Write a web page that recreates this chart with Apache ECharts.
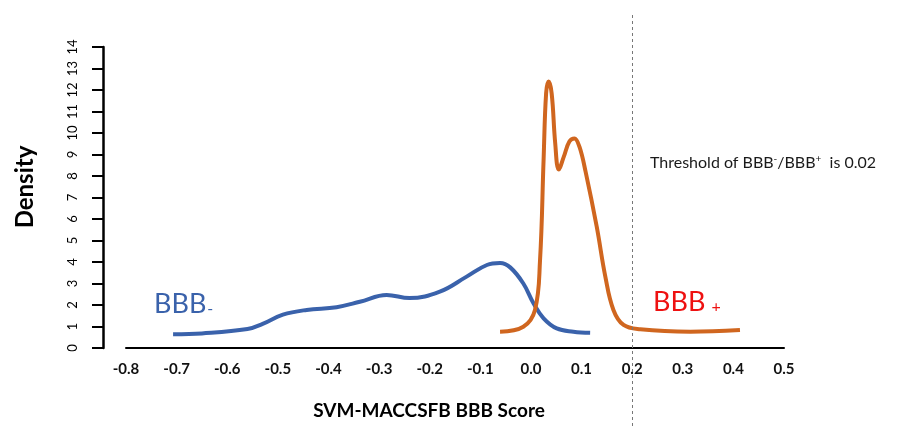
<!DOCTYPE html>
<html><head><meta charset="utf-8">
<script src="https://cdn.jsdelivr.net/npm/echarts@6/dist/echarts.min.js"></script>
<style>html,body{margin:0;padding:0;background:#fff}#c{width:913px;height:426px}</style>
</head><body><div id="c"></div>
<script>
// x tick range
const xMin = -0.8, xMax = 0.5, xStep = 0.1;
const yMin = 0, yMax = 14, yStep = 1;
const threshold = 0.2;
// BBB- density curve
const bbbMinusX = [-0.707,-0.65,-0.56,-0.53,-0.49,-0.443,-0.384,-0.338,-0.285,-0.24,-0.18,-0.127,-0.087,-0.061,-0.041,-0.015,0.005,0.025,0.051,0.084,0.117];
const bbbMinusY = [0.64,0.68,0.88,1.12,1.55,1.77,1.9,2.15,2.47,2.32,2.62,3.32,3.86,3.95,3.75,3.0,2.08,1.38,0.91,0.76,0.71];
// BBB+ density curve
const bbbPlusX = [-0.061,-0.015,0.008,0.018,0.025,0.030,0.035,0.041,0.048,0.055,0.065,0.076,0.086,0.096,0.108,0.130,0.147,0.163,0.183,0.216,0.315,0.413];
const bbbPlusY = [0.76,0.99,1.77,4.09,8.74,11.84,12.39,11.84,9.52,8.3,8.9,9.6,9.75,9.35,8.2,5.64,3.32,1.77,1.07,0.87,0.76,0.84];

const FONT = 'Lato, "Open Sans", sans-serif';
const zip = (xs, ys) => xs.map((x, i) => [x, ys[i]]);

const chart = echarts.init(document.getElementById('c'), null, {renderer: 'canvas'});
chart.setOption({
  animation: false,
  backgroundColor: '#ffffff',
  grid: [
    {left: 126, right: 129, top: 47, bottom: 78},
    {left: 126, right: 129, top: 12, bottom: 0}
  ],
  xAxis: [
    {type: 'value', gridIndex: 0, min: xMin, max: xMax, interval: xStep,
     axisLine: {show: true, onZero: false, lineStyle: {color: '#000', width: 2}},
     axisTick: {show: false}, splitLine: {show: false},
     axisLabel: {margin: 14, color: '#111', fontSize: 15, fontWeight: 'bold', fontFamily: FONT,
       formatter: v => v.toFixed(1)}},
    {type: 'value', gridIndex: 1, min: xMin, max: xMax, show: false}
  ],
  yAxis: [
    {type: 'value', gridIndex: 0, min: yMin, max: yMax, interval: yStep, offset: 23,
     axisLine: {show: true, onZero: false, lineStyle: {color: '#000', width: 2.5}},
     axisTick: {show: true, inside: false, length: 11, lineStyle: {color: '#000', width: 2}},
     splitLine: {show: false},
     axisLabel: {rotate: 90, margin: 24, color: '#000', fontSize: 13, fontFamily: FONT}},
    {type: 'value', gridIndex: 1, min: 0, max: 1, show: false}
  ],
  series: [
    {type: 'line', name: 'BBB-', xAxisIndex: 0, yAxisIndex: 0, data: zip(bbbMinusX, bbbMinusY),
     smooth: 0.4, showSymbol: false, lineStyle: {color: '#3a62ab', width: 4}},
    {type: 'line', name: 'BBB+', xAxisIndex: 0, yAxisIndex: 0, data: zip(bbbPlusX, bbbPlusY),
     smooth: 0.4, showSymbol: false, lineStyle: {color: '#d0661f', width: 4}},
    {type: 'line', xAxisIndex: 1, yAxisIndex: 1, data: [], silent: true,
     markLine: {symbol: 'none', silent: true, label: {show: false},
       lineStyle: {color: '#777', width: 1, type: [3, 3]}, data: [{xAxis: threshold}]}}
  ],
  graphic: [
    {type: 'text', x: 25, y: 187, rotation: Math.PI / 2,
     style: {text: 'Density', fontSize: 24, fontWeight: 'bold', fontFamily: FONT, fill: '#000', align: 'center', verticalAlign: 'middle'}},
    {type: 'text', x: 429, y: 411,
     style: {text: 'SVM-MACCSFB BBB Score', fontSize: 19, fontWeight: 'bold', fontFamily: FONT, fill: '#000', align: 'center', verticalAlign: 'middle'}},
    {type: 'text', x: 650, y: 163,
     style: {text: '{n|Threshold of BBB}{s|-}{n|/BBB}{s|+}{n|  is 0.02}', verticalAlign: 'middle',
       rich: {n: {fontSize: 16, fontFamily: FONT, fill: '#1a1a1a'},
              s: {fontSize: 10, fontFamily: FONT, fill: '#1a1a1a', verticalAlign: 'top', padding: [0, 0, 8, 0]}}}},
    {type: 'text', x: 154, y: 304,
     style: {text: '{n|BBB}{s|-}', verticalAlign: 'middle',
       rich: {n: {fontSize: 27, fontFamily: FONT, fill: '#3a62ab'},
              s: {fontSize: 16, fontFamily: FONT, fill: '#3a62ab', padding: [10, 0, 0, 1]}}}},
    {type: 'text', x: 653, y: 302,
     style: {text: '{n|BBB}{s| +}', verticalAlign: 'middle',
       rich: {n: {fontSize: 27, fontFamily: FONT, fill: '#ee1111'},
              s: {fontSize: 16, fontFamily: FONT, fill: '#ee1111', padding: [10, 0, 0, 2]}}}}
  ]
});
</script></body></html>
